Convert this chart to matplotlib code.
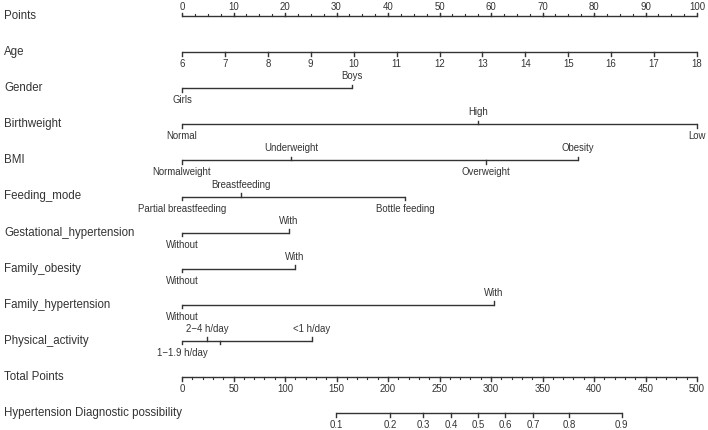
import matplotlib
matplotlib.use("Agg")
import matplotlib.pyplot as plt
import numpy as np

plt.rcParams['font.family'] = ['Liberation Sans', 'DejaVu Sans']

# row names, top to bottom
rows = ["Points", "Age", "Gender", "Birthweight", "BMI", "Feeding_mode",
        "Gestational_hypertension", "Family_obesity", "Family_hypertension",
        "Physical_activity", "Total Points", "Hypertension Diagnostic possibility"]

points_ticks = list(range(0, 101, 10))
points_minor = list(np.arange(0, 100.1, 2.5))

age_ticks = list(range(6, 19))
age_min, age_max = 6, 18   # age 6 -> 0 points, age 18 -> 100 points

gender_labels = ["Girls", "Boys"]
gender_points = [0, 33]
gender_side = ["below", "above"]

birth_labels = ["Normal", "High", "Low"]
birth_points = [0, 57.5, 100]
birth_side = ["below", "above", "below"]

bmi_labels = ["Normalweight", "Underweight", "Overweight", "Obesity"]
bmi_points = [0, 21.2, 59.0, 76.9]
bmi_side = ["below", "above", "below", "above"]

feed_labels = ["Partial breastfeeding", "Breastfeeding", "Bottle feeding"]
feed_points = [0, 11.5, 43.3]
feed_side = ["below", "above", "below"]

gest_labels = ["Without", "With"]
gest_points = [0, 20.8]
fam_ob_labels = ["Without", "With"]
fam_ob_points = [0, 21.9]
fam_hy_labels = ["Without", "With"]
fam_hy_points = [0, 60.6]
yes_no_side = ["below", "above"]

pa_labels = ["1\u22121.9 h/day", "2\u22124 h/day", "", "<1 h/day"]
pa_points = [0, 4.9, 7.4, 25.2]
pa_side = ["below", "above", "below", "above"]

total_ticks = list(range(0, 501, 50))
total_minor = list(range(0, 501, 10))

prob_labels = ["0.1", "0.2", "0.3", "0.4", "0.5", "0.6", "0.7", "0.8", "0.9"]
prob_total = [149.5, 202, 234, 261, 287.6, 314, 341, 376, 427]

# layout (pixels)
W, H = 708, 430
x0, x100 = 182, 697
scale = (x100 - x0) / 100.0
row_y = [16 + 36.1 * i for i in range(len(rows))]
col = "#333333"
lw = 1.0
tick_len = 3.5
lab_off = 12
lab_fs = 8.3
tick_fs = 6.9

fig = plt.figure(figsize=(W / 100, H / 100), dpi=100)
ax = fig.add_axes([0, 0, 1, 1])
ax.set_xlim(-x0 / scale, (W - x0) / scale)
ax.set_ylim(H, 0)
ax.axis("off")

for name, y in zip(rows, row_y):
    ax.text(4 / scale - x0 / scale, y, name, fontsize=lab_fs, color=col,
            va="center", ha="left")


def draw_axis(y, pos, labels, sides, minor=None, tl=tick_len, off=lab_off):
    ax.plot([min(pos), max(pos)], [y, y], color=col, lw=lw, solid_capstyle="butt")
    if minor is not None:
        for m in minor:
            ax.plot([m, m], [y, y + (-1.8 if sides[0] == "above" else 1.8)],
                    color=col, lw=lw * 0.8)
    for p, lab, s in zip(pos, labels, sides):
        d = -1 if s == "above" else 1
        ax.plot([p, p], [y, y + d * tl], color=col, lw=lw)
        if lab:
            ax.text(p, y + d * off, lab, fontsize=tick_fs, color=col,
                    ha="center", va="center")


# Points
draw_axis(row_y[0], points_ticks, [str(v) for v in points_ticks],
          ["above"] * len(points_ticks), minor=points_minor, off=9.5)
# Age
age_pos = [(a - age_min) * 100.0 / (age_max - age_min) for a in age_ticks]
draw_axis(row_y[1], age_pos, [str(a) for a in age_ticks], ["below"] * len(age_ticks))
draw_axis(row_y[2], gender_points, gender_labels, gender_side)
draw_axis(row_y[3], birth_points, birth_labels, birth_side)
draw_axis(row_y[4], bmi_points, bmi_labels, bmi_side)
draw_axis(row_y[5], feed_points, feed_labels, feed_side)
draw_axis(row_y[6], gest_points, gest_labels, yes_no_side)
draw_axis(row_y[7], fam_ob_points, fam_ob_labels, yes_no_side)
draw_axis(row_y[8], fam_hy_points, fam_hy_labels, yes_no_side)
draw_axis(row_y[9], pa_points, pa_labels, pa_side)
# Total points (0-500 drawn on the 0-100 points scale)
draw_axis(row_y[10], [t / 5.0 for t in total_ticks], [str(t) for t in total_ticks],
          ["below"] * len(total_ticks), minor=[t / 5.0 for t in total_minor])
# Probability
draw_axis(row_y[11], [t / 5.0 for t in prob_total], prob_labels,
          ["below"] * len(prob_labels))

fig.savefig("out.png", dpi=100)
